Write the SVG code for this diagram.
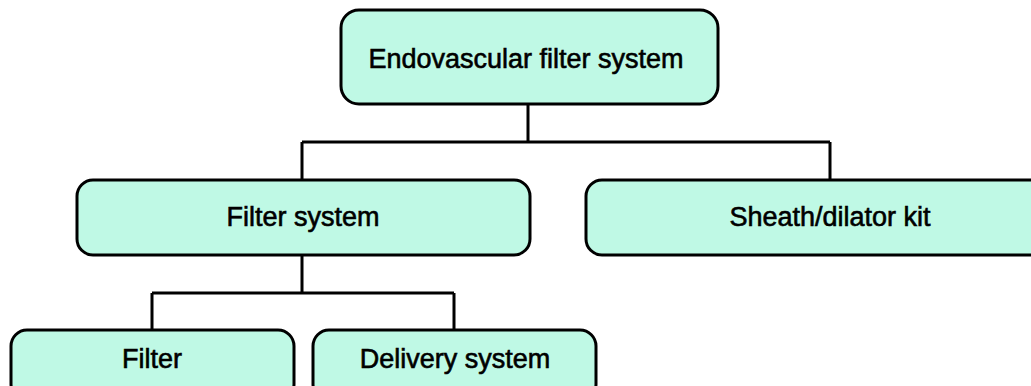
<svg xmlns="http://www.w3.org/2000/svg" width="1031" height="386" viewBox="0 0 1031 386">
  <style>
    .box { fill: #bff9e5; stroke: #000; stroke-width: 3; }
    .lbl { font-family: "Liberation Sans", Arial, sans-serif; font-size: 27px; fill: #000; stroke: #000; stroke-width: 0.6px; text-anchor: middle; }
    .wire { fill: none; stroke: #000; stroke-width: 3; }
  </style>
  <rect width="1031" height="386" fill="#fff"/>
  <g id="connectors">
    <path class="wire" d="M528 104 V142 M302 142 H830 M302 142 V180 M830 142 V180"/>
    <path class="wire" d="M302 255 V293 M152 293 H454 M152 293 V330 M454 293 V330"/>
  </g>
  <g id="endovascular-filter-system">
    <rect class="box" x="341" y="10" width="377" height="94" rx="18"/>
    <text class="lbl" x="526" y="68">Endovascular filter system</text>
  </g>
  <g id="filter-system">
    <rect class="box" x="77" y="180" width="453" height="75" rx="16"/>
    <text class="lbl" x="303" y="226">Filter system</text>
  </g>
  <g id="sheath-dilator-kit">
    <rect class="box" x="586" y="180" width="460" height="75" rx="16"/>
    <text class="lbl" x="830" y="226">Sheath/dilator kit</text>
  </g>
  <g id="filter">
    <rect class="box" x="11" y="330" width="283" height="70" rx="16"/>
    <text class="lbl" x="152" y="368">Filter</text>
  </g>
  <g id="delivery-system">
    <rect class="box" x="313" y="330" width="283" height="70" rx="16"/>
    <text class="lbl" x="455" y="368">Delivery system</text>
  </g>
</svg>
